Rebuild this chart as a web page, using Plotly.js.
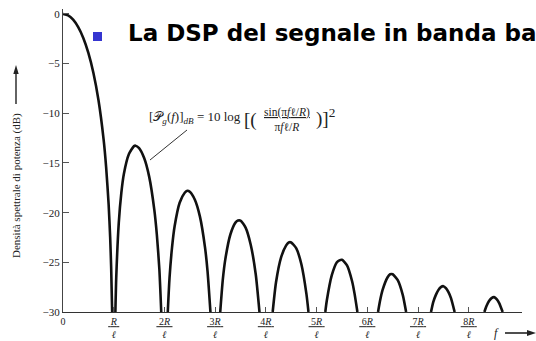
<!DOCTYPE html>
<html>
<head>
<meta charset="utf-8">
<script src="https://cdn.plot.ly/plotly-3.0.1.min.js"></script>
<style>html,body{margin:0;padding:0;background:#fff;}#chart{width:536px;height:341px;}</style>
</head>
<body>
<div id="chart"></div>
<script>
// Frequency in units of R/l, PSD in dB
const mainF  = [0, 0.1, 0.2, 0.3, 0.4, 0.5, 0.6, 0.7, 0.8, 0.85, 0.9, 0.93, 0.95, 0.969];
const mainDb = [0, -0.14, -0.58, -1.33, -2.42, -3.92, -5.94, -8.69, -12.6, -15.4, -19.2, -22.5, -25.6, -30];
const side1F  = [1.033, 1.05, 1.1, 1.15, 1.2, 1.3, 1.4, 1.43, 1.5, 1.6, 1.7, 1.8, 1.85, 1.9, 1.937];
const side1Db = [-30, -26.5, -21.0, -18.0, -16.1, -14.1, -13.3, -13.26, -13.5, -14.5, -16.4, -19.7, -22.2, -25.7, -30];
const side2F  = [2.066, 2.1, 2.15, 2.2, 2.3, 2.4, 2.45, 2.5, 2.6, 2.7, 2.8, 2.85, 2.907];
const side2Db = [-30, -26.6, -23.5, -21.4, -19.0, -18.0, -17.8, -17.9, -18.7, -20.4, -23.5, -25.9, -30];
const side3F  = [3.10, 3.15, 3.2, 3.3, 3.4, 3.45, 3.5, 3.6, 3.7, 3.8, 3.874];
const side3Db = [-30, -26.8, -24.7, -22.2, -21.0, -20.8, -20.8, -21.5, -23.2, -26.2, -30];
const side4F  = [4.134, 4.2, 4.3, 4.4, 4.45, 4.5, 4.6, 4.7, 4.8, 4.84];
const side4Db = [-30, -27.0, -24.5, -23.3, -23.0, -23.0, -23.6, -25.2, -28.2, -30];
const side5F  = [5.172, 5.2, 5.3, 5.4, 5.45, 5.5, 5.6, 5.7, 5.75, 5.805];
const side5Db = [-30, -28.9, -26.3, -25.0, -24.8, -24.75, -25.3, -26.9, -28.2, -30];
const side6F  = [6.212, 6.25, 6.3, 6.4, 6.45, 6.5, 6.6, 6.7, 6.765];
const side6Db = [-30, -28.9, -27.8, -26.5, -26.2, -26.2, -26.8, -28.3, -30];
const side7F  = [7.256, 7.3, 7.35, 7.4, 7.45, 7.5, 7.55, 7.6, 7.65, 7.722];
const side7Db = [-30, -29.0, -28.3, -27.8, -27.5, -27.4, -27.6, -28.0, -28.6, -30];
const side8F  = [8.308, 8.35, 8.4, 8.45, 8.5, 8.55, 8.6, 8.669];
const side8Db = [-30, -29.4, -28.9, -28.6, -28.5, -28.7, -29.1, -30];

const xTickVals = [0, 1, 2, 3, 4, 5, 6, 7, 8];
const xTickText = ['0',
  '<u>\u00a0<i>R</i>\u00a0</u><br><i>ℓ</i>',
  '<u>\u00a02<i>R</i>\u00a0</u><br><i>ℓ</i>',
  '<u>\u00a03<i>R</i>\u00a0</u><br><i>ℓ</i>',
  '<u>\u00a04<i>R</i>\u00a0</u><br><i>ℓ</i>',
  '<u>\u00a05<i>R</i>\u00a0</u><br><i>ℓ</i>',
  '<u>\u00a06<i>R</i>\u00a0</u><br><i>ℓ</i>',
  '<u>\u00a07<i>R</i>\u00a0</u><br><i>ℓ</i>',
  '<u>\u00a08<i>R</i>\u00a0</u><br><i>ℓ</i>'];
const yTickVals = [0, -5, -10, -15, -20, -25, -30];

const lobesF = [mainF, side1F, side2F, side3F, side4F, side5F, side6F, side7F, side8F];
const lobesDb = [mainDb, side1Db, side2Db, side3Db, side4Db, side5Db, side6Db, side7Db, side8Db];
let xs = [], ys = [];
lobesF.forEach((f, i) => {
  if (i > 0) { xs.push(null); ys.push(null); }
  xs = xs.concat(f); ys = ys.concat(lobesDb[i]);
});

const serif = 'Liberation Serif, Times New Roman, serif';
// pixel -> paper helpers for decorations (plot area: x 63..522, y 9..312)
const PX = p => (p - 63) / 459;
const PY = p => (312 - p) / 303;

const trace = {
  x: xs, y: ys, type: 'scatter', mode: 'lines',
  line: {color: '#111', width: 2.6, shape: 'spline', smoothing: 0.6},
  connectgaps: false, hoverinfo: 'skip'
};

const layout = {
  width: 536, height: 341,
  margin: {l: 63, r: 14, t: 9, b: 29, pad: 0},
  paper_bgcolor: '#fff', plot_bgcolor: '#fff',
  showlegend: false,
  title: {
    text: '<b>La DSP del segnale in banda ba</b>',
    font: {family: 'DejaVu Sans, Verdana, sans-serif', size: 23, color: '#000'},
    xref: 'container', x: 128 / 536, xanchor: 'left',
    yref: 'container', y: 1 - 33 / 341, yanchor: 'middle'
  },
  xaxis: {
    range: [0, 9.05], showgrid: false, zeroline: false,
    showline: true, linecolor: '#333', linewidth: 1.2,
    ticks: 'inside', ticklen: 5, tickcolor: '#555', tickwidth: 1,
    tickvals: xTickVals, ticktext: xTickText,
    tickfont: {family: serif, size: 10, color: '#222'},
    fixedrange: true
  },
  yaxis: {
    range: [-30, 0.5], showgrid: false, zeroline: false,
    showline: true, linecolor: '#444', linewidth: 1,
    ticks: 'inside', ticklen: 6, tickcolor: '#555', tickwidth: 1,
    tickvals: yTickVals,
    tickfont: {family: serif, size: 11, color: '#222'},
    fixedrange: true
  },
  shapes: [
    {type: 'rect', xref: 'paper', yref: 'paper',
     x0: PX(93), x1: PX(102), y0: PY(41), y1: PY(32),
     fillcolor: '#3535d0', line: {width: 0}},
    {type: 'line', xref: 'paper', yref: 'paper',
     x0: PX(187), y0: PY(130), x1: PX(150), y1: PY(160),
     line: {color: '#333', width: 1}},
    // y-label arrow
    {type: 'line', xref: 'paper', yref: 'paper',
     x0: PX(16), y0: PY(104), x1: PX(16), y1: PY(72),
     line: {color: '#222', width: 1.4}},
    {type: 'path', xref: 'paper', yref: 'paper',
     path: `M${PX(16)},${PY(65)} L${PX(13.3)},${PY(74)} L${PX(18.7)},${PY(74)} Z`,
     fillcolor: '#222', line: {width: 0}},
    // f arrow
    {type: 'line', xref: 'paper', yref: 'paper',
     x0: PX(505), y0: PY(333), x1: PX(529), y1: PY(333),
     line: {color: '#222', width: 1.6}},
    {type: 'path', xref: 'paper', yref: 'paper',
     path: `M${PX(536)},${PY(333)} L${PX(527)},${PY(330)} L${PX(527)},${PY(336)} Z`,
     fillcolor: '#222', line: {width: 0}}
  ],
  annotations: [
    {xref: 'paper', yref: 'paper', x: PX(16), y: PY(186),
     text: 'Densità spettrale di potenza (dB)', textangle: -90, showarrow: false,
     xanchor: 'center', yanchor: 'middle', font: {family: serif, size: 11, color: '#222'}},
    {xref: 'paper', yref: 'paper', x: PX(496), y: PY(333),
     text: '<i>f</i>', showarrow: false, xanchor: 'center', yanchor: 'middle',
     font: {family: serif, size: 12, color: '#222'}},
    {xref: 'paper', yref: 'paper', x: PX(147), y: PY(117),
     text: '[𝒫<sub><i>g</i></sub>(<i>f</i>)]<sub><i>dB</i></sub> = 10 log', showarrow: false,
     xanchor: 'left', yanchor: 'middle', font: {family: serif, size: 13, color: '#222'}},
    {xref: 'paper', yref: 'paper', x: PX(242), y: PY(120),
     text: '[(', showarrow: false,
     xanchor: 'left', yanchor: 'middle', font: {family: serif, size: 19, color: '#222'}},
    {xref: 'paper', yref: 'paper', x: PX(287), y: PY(120),
     text: '<u>sin(π<i>f</i>ℓ/<i>R</i>)</u><br>π<i>f</i>ℓ/<i>R</i>', showarrow: false,
     xanchor: 'center', yanchor: 'middle', font: {family: serif, size: 11.5, color: '#222'}},
    {xref: 'paper', yref: 'paper', x: PX(314), y: PY(117),
     text: ')]<sup>2</sup>', showarrow: false,
     xanchor: 'left', yanchor: 'middle', font: {family: serif, size: 19, color: '#222'}}
  ]
};

Plotly.newPlot('chart', [trace], layout, {displayModeBar: false, staticPlot: true});
</script>
</body>
</html>
